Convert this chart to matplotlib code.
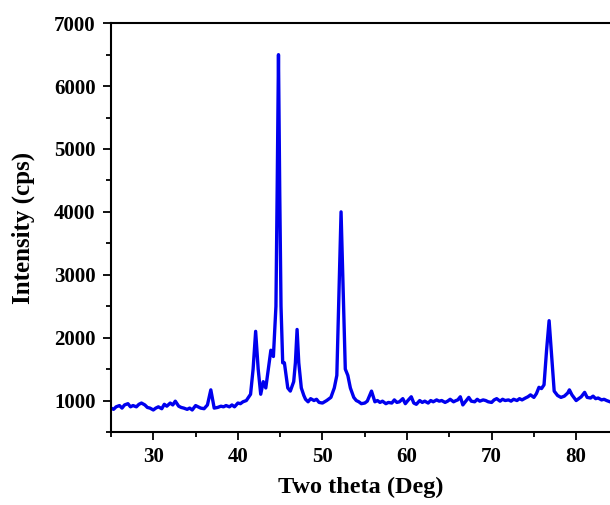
import matplotlib
matplotlib.use("Agg")
import matplotlib.pyplot as plt
from matplotlib.ticker import MultipleLocator

# XRD pattern
two_theta = [
    25.0, 25.3, 25.6, 26.0, 26.3, 26.6, 27.0, 27.3, 27.6, 28.0,
    28.3, 28.6, 29.0, 29.3, 29.6, 30.0, 30.3, 30.6, 31.0, 31.3,
    31.6, 32.0, 32.3, 32.6, 33.0, 33.3, 33.6, 34.0, 34.3, 34.6,
    35.0, 35.3, 35.6, 36.0, 36.4, 36.8, 37.2, 37.6, 38.0, 38.3,
    38.6, 39.0, 39.3, 39.6, 40.0, 40.3, 40.6, 41.0, 41.5, 41.8,
    42.1, 42.4, 42.7, 43.0, 43.3, 43.7, 43.9, 44.2, 44.5, 44.65,
    44.8, 44.95, 45.1, 45.3, 45.5, 45.7, 45.9, 46.2, 46.6, 46.8,
    47.0, 47.2, 47.5, 47.8, 48.0, 48.3, 48.6, 49.0, 49.3, 49.6,
    50.0, 50.5, 51.0, 51.4, 51.7, 52.0, 52.2, 52.4, 52.7, 53.0,
    53.3, 53.7, 54.0, 54.3, 54.6, 55.0, 55.3, 55.8, 56.2, 56.5,
    56.8, 57.1, 57.5, 57.8, 58.2, 58.5, 58.8, 59.1, 59.5, 59.8,
    60.1, 60.5, 60.8, 61.1, 61.5, 61.8, 62.1, 62.5, 62.8, 63.1,
    63.5, 63.8, 64.1, 64.5, 64.8, 65.1, 65.5, 65.8, 66.0, 66.3,
    66.6, 67.0, 67.3, 67.6, 68.0, 68.3, 68.6, 69.0, 69.3, 69.6,
    70.0, 70.3, 70.6, 71.0, 71.3, 71.6, 72.0, 72.3, 72.6, 73.0,
    73.3, 73.6, 74.0, 74.3, 74.6, 75.0, 75.3, 75.6, 75.9, 76.2,
    76.5, 76.8, 77.1, 77.4, 77.8, 78.2, 78.6, 79.0, 79.2, 79.5,
    80.0, 80.3, 80.6, 81.0, 81.3, 81.7, 82.0, 82.3, 82.6, 83.0,
    83.3, 83.6, 84.0,
]
intensity = [
    880, 860, 900, 920, 880, 930, 950, 900, 920, 900,
    940, 960, 930, 890, 880, 850, 880, 900, 870, 940,
    910, 960, 930, 990, 910, 890, 880, 860, 880, 850,
    920, 900, 880, 870, 930, 1170, 880, 890, 910, 900,
    920, 900, 930, 900, 960, 950, 980, 1000, 1100, 1500,
    2100, 1500, 1100, 1300, 1200, 1600, 1800, 1700, 2500, 4400,
    6500, 4300, 2500, 1600, 1600, 1400, 1200, 1150, 1300, 1600,
    2130, 1600, 1200, 1080, 1020, 980, 1030, 1000, 1020, 970,
    960, 1000, 1050, 1200, 1400, 3000, 4000, 3000, 1500, 1400,
    1200, 1050, 1000, 980, 950, 960, 990, 1150, 980, 1000,
    970, 990, 950, 970, 960, 1010, 970, 980, 1030, 950,
    1000, 1060, 960, 940, 1000, 970, 990, 960, 1000, 980,
    1010, 990, 1000, 970, 990, 1020, 980, 1000, 1010, 1060,
    930, 1000, 1050, 990, 980, 1020, 990, 1010, 1000, 980,
    970, 1010, 1030, 990, 1020, 1000, 1010, 990, 1020, 1000,
    1030, 1010, 1040, 1060, 1090, 1050, 1110, 1210, 1190, 1250,
    1800, 2270, 1700, 1150, 1080, 1050, 1070, 1120, 1170, 1090,
    1000, 1030, 1060, 1130, 1050, 1040, 1070, 1030, 1040, 1010,
    1020, 1000, 980,
]

plt.rcParams["font.family"] = ["Liberation Serif", "DejaVu Serif"]
plt.rcParams["font.weight"] = "bold"

fig = plt.figure(figsize=(6.1, 5.05), dpi=100)
ax = fig.add_axes([0.182, 0.1446, 0.818, 0.8094])

ax.plot(two_theta, intensity, color="#0000ee", linewidth=2.4)

ax.set_xlim(25, 84)
ax.set_ylim(500, 7000)
ax.xaxis.set_major_locator(MultipleLocator(10))
ax.xaxis.set_minor_locator(MultipleLocator(5))
ax.yaxis.set_major_locator(MultipleLocator(1000))
ax.yaxis.set_minor_locator(MultipleLocator(500))

ax.tick_params(which="both", direction="out", width=1.3, labelsize=15)
ax.tick_params(which="major", length=6, pad=5)
ax.tick_params(which="minor", length=3.5)
for lbl in ax.get_xticklabels() + ax.get_yticklabels():
    lbl.set_fontweight("bold")

for side in ["left", "bottom", "top"]:
    ax.spines[side].set_linewidth(1.5)
ax.spines["right"].set_visible(False)

ax.set_xlabel("Two theta (Deg)", fontsize=17.5, fontweight="bold", labelpad=7)
ax.set_ylabel("Intensity (cps)", fontsize=18, fontweight="bold", labelpad=14)

fig.savefig("out.png", dpi=100)
